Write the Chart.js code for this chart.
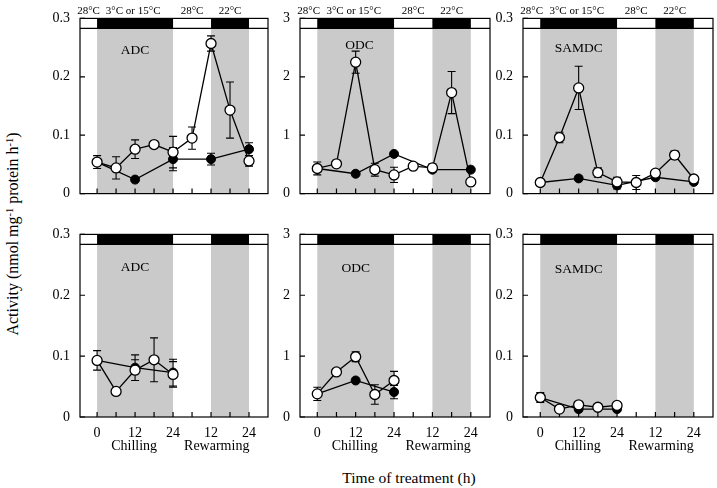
<!DOCTYPE html>
<html>
<head>
<meta charset="utf-8">
<script src="https://cdn.jsdelivr.net/npm/chart.js@4.4.0/dist/chart.umd.min.js"></script>
<style>
  body { margin: 0; width: 717px; height: 488px; background: #fff; position: relative; overflow: hidden;
         font-family: 'Liberation Serif', 'Times New Roman', serif; }
  canvas { position: absolute; }
  .ttl { position: absolute; white-space: nowrap; font-size: 15.5px; color: #000; line-height: 1; }
  .ttl sup { font-size: 0.65em; vertical-align: 0.45em; line-height: 0; }
  #ytitle { left: 13px; top: 234px; font-size: 16px; transform: translate(-50%, -50%) rotate(-90deg); }
  #xtitle { left: 409px; top: 478px; transform: translate(-50%, -50%); }
</style>
</head>
<body>
<div class="ttl" id="ytitle">Activity (nmol mg<sup>-1</sup> protein h<sup>-1</sup>)</div>
<div class="ttl" id="xtitle">Time of treatment (h)</div>
<script>
// x positions: 0..4 = chilling 0,6,12,18,24 h ; 5..8 = rewarming 6,12,18,24 h
const xAll = [0, 1, 2, 3, 4, 5, 6, 7, 8];
const xEven = [0, 2, 4, 6, 8];
const xChill = [0, 1, 2, 3, 4];
const xChillEven = [0, 2, 4];
const xTickLabels = ['0', '', '12', '', '24', '', '12', '', '24'];
const phaseLabels = ['Chilling', 'Rewarming'];
const tempLabels = ['28°C', '3°C or 15°C', '28°C', '22°C'];
const enzymes = ['ADC', 'ODC', 'SAMDC'];

// top row (chilling + rewarming)
const adcTopOpen = [0.054, 0.044, 0.076, 0.084, 0.071, 0.095, 0.257, 0.143, 0.056];
const adcTopOpenErr = [0.011, 0.019, 0.016, 0, 0.027, 0.019, 0.013, 0.048, 0.009];
const adcTopFilled = [0.054, 0.024, 0.059, 0.059, 0.076];
const adcTopFilledErr = [0, 0, 0.02, 0.010, 0.011];

const odcTopOpen = [0.43, 0.51, 2.25, 0.41, 0.32, 0.47, 0.44, 1.73, 0.20];
const odcTopOpenErr = [0.11, 0, 0.19, 0.11, 0.13, 0, 0.07, 0.36, 0];
const odcTopFilled = [0.43, 0.34, 0.68, 0.41, 0.41];
const odcTopFilledErr = [0, 0, 0, 0, 0];

const samdcTopOpen = [0.019, 0.096, 0.181, 0.036, 0.020, 0.019, 0.035, 0.066, 0.025];
const samdcTopOpenErr = [0, 0.009, 0.037, 0.008, 0.008, 0.012, 0, 0.007, 0];
const samdcTopFilled = [0.019, 0.026, 0.014, 0.028, 0.020];
const samdcTopFilledErr = [0, 0, 0.006, 0, 0];

// bottom row (chilling only)
const adcBotOpen = [0.093, 0.042, 0.077, 0.094, 0.070];
const adcBotOpenErr = [0.016, 0.005, 0.017, 0.036, 0.021];
const adcBotFilled = [0.093, 0.081, 0.073];
const adcBotFilledErr = [0, 0.021, 0.022];

const odcBotOpen = [0.38, 0.74, 0.99, 0.37, 0.60];
const odcBotOpenErr = [0.11, 0, 0.08, 0.16, 0.15];
const odcBotFilled = [0.38, 0.60, 0.41];
const odcBotFilledErr = [0, 0, 0.11];

const samdcBotOpen = [0.032, 0.013, 0.020, 0.016, 0.019];
const samdcBotOpenErr = [0.008, 0, 0, 0, 0.005];
const samdcBotFilled = [0.032, 0.013, 0.013];
const samdcBotFilledErr = [0, 0, 0.004];

const FONT = "'Liberation Serif', 'Times New Roman', serif";
const SHADE = '#cacaca';
const shadeSpans = [[0, 4], [6, 8]];
const tempAt = [-0.45, 1.9, 5, 7];
const phaseAt = [1.95, 6.3];

Chart.defaults.color = '#000';
Chart.defaults.font.family = FONT;

const decor = {
  id: 'decor',
  beforeDatasetsDraw(chart, args, o) {
    const { ctx, chartArea: a, scales: { x, y } } = chart;
    ctx.save();
    ctx.fillStyle = SHADE;
    shadeSpans.forEach(([s, e]) => {
      const x0 = x.getPixelForValue(s), x1 = x.getPixelForValue(e);
      ctx.fillRect(x0, a.top, x1 - x0, a.bottom - a.top);
    });
    // temperature band on top
    const bandH = 10;
    ctx.fillStyle = '#000';
    shadeSpans.forEach(([s, e]) => {
      const x0 = x.getPixelForValue(s), x1 = x.getPixelForValue(e);
      ctx.fillRect(x0, a.top, x1 - x0, bandH);
    });
    ctx.strokeStyle = '#000';
    ctx.lineWidth = 1.2;
    ctx.beginPath();
    ctx.moveTo(a.left, a.top + bandH);
    ctx.lineTo(a.right, a.top + bandH);
    ctx.stroke();
    ctx.strokeRect(a.left, a.top, a.right - a.left, a.bottom - a.top);

    // inward tick marks
    ctx.beginPath();
    xAll.forEach(v => {
      const px = x.getPixelForValue(v);
      ctx.moveTo(px, a.bottom);
      ctx.lineTo(px, a.bottom - 5);
    });
    y.ticks.forEach(t => {
      const py = y.getPixelForValue(t.value);
      ctx.moveTo(a.left, py);
      ctx.lineTo(a.left + 5, py);
    });
    ctx.stroke();

    ctx.textAlign = 'center';
    ctx.textBaseline = 'middle';
    if (o.temps) {
      ctx.font = `11px ${FONT}`;
      tempLabels.forEach((t, i) => ctx.fillText(t, x.getPixelForValue(tempAt[i]), a.top - 7));
    }
    ctx.font = `13.5px ${FONT}`;
    ctx.fillText(o.name, x.getPixelForValue(o.nameX), a.top + o.nameDy);
    if (o.phases) {
      ctx.font = `14px ${FONT}`;
      phaseLabels.forEach((t, i) => ctx.fillText(t, x.getPixelForValue(phaseAt[i]), a.bottom + 29));
    }

    // error bars
    ctx.lineWidth = 1.1;
    ctx.beginPath();
    chart.data.datasets.forEach((ds, di) => {
      const meta = chart.getDatasetMeta(di);
      ds.data.forEach((p, j) => {
        const e = ds.errs[j];
        if (!e) return;
        const px = meta.data[j].x;
        const yt = y.getPixelForValue(p.y + e), yb = y.getPixelForValue(p.y - e);
        ctx.moveTo(px, yt); ctx.lineTo(px, yb);
        ctx.moveTo(px - 4, yt); ctx.lineTo(px + 4, yt);
        ctx.moveTo(px - 4, yb); ctx.lineTo(px + 4, yb);
      });
    });
    ctx.stroke();
    ctx.restore();
  }
};

const pts = (xs, ys) => xs.map((v, i) => ({ x: v, y: ys[i] }));

function panel(frame, bottomRow, yMax, name, nameX, nameDy, openX, open, openErr, filledX, filled, filledErr) {
  const W = 50, padR = 12, padT = 13;
  const xH = bottomRow ? 42 : 10;
  const cv = document.createElement('canvas');
  const cw = W + (frame.r - frame.l) + padR;
  const ch = padT + (frame.b - frame.t) + xH;
  cv.width = cw; cv.height = ch;
  cv.style.left = (frame.l - W) + 'px';
  cv.style.top = (frame.t - padT) + 'px';
  cv.style.width = cw + 'px'; cv.style.height = ch + 'px';
  document.body.appendChild(cv);
  const step = yMax / 3;
  new Chart(cv, {
    type: 'line',
    data: {
      datasets: [
        { data: pts(openX, open), errs: openErr, borderColor: '#000', borderWidth: 1.3,
          pointRadius: 5, pointBorderWidth: 1.3, pointBackgroundColor: '#fff', pointBorderColor: '#000',
          tension: 0, clip: false },
        { data: pts(filledX, filled), errs: filledErr, borderColor: '#000', borderWidth: 1.3,
          pointRadius: 4.5, pointBorderWidth: 1, pointBackgroundColor: '#000', pointBorderColor: '#000',
          tension: 0, clip: false }
      ]
    },
    options: {
      responsive: false,
      animation: false,
      devicePixelRatio: 1,
      layout: { padding: { top: padT, right: padR, left: 0, bottom: 0 } },
      plugins: { legend: { display: false }, tooltip: { enabled: false },
                 decor: { name, nameX, nameDy, temps: !bottomRow, phases: bottomRow } },
      scales: {
        x: {
          type: 'linear', min: -0.9, max: 9,
          afterBuildTicks: s => { s.ticks = xAll.map(v => ({ value: v })); },
          afterFit: s => { s.height = xH; },
          grid: { display: false, drawTicks: false },
          border: { display: false },
          ticks: { display: bottomRow, autoSkip: false, maxRotation: 0, padding: 8,
                   font: { size: 14 }, callback: v => xTickLabels[v] ?? '' }
        },
        y: {
          min: 0, max: yMax,
          afterBuildTicks: s => { s.ticks = [0, 1, 2, 3].map(k => ({ value: k * step })); },
          afterFit: s => { s.width = W; },
          grid: { display: false, drawTicks: false },
          border: { display: false },
          ticks: { padding: 10, font: { size: 14 },
                   callback: v => v === 0 ? '0' : (yMax > 1 ? String(Math.round(v)) : v.toFixed(1)) }
        }
      }
    },
    plugins: [decor]
  });
}

const cols = [{ l: 80, r: 268 }, { l: 300, r: 490 }, { l: 523, r: 713 }];
const rowTop = { t: 13, b: 202 }, rowBot = { t: 229, b: 417 };
const f = (c, r) => ({ l: c.l, r: c.r, t: r.t, b: r.b });

panel(f(cols[0], rowTop), false, 0.3, enzymes[0], 2, 32, xAll, adcTopOpen, adcTopOpenErr, xEven, adcTopFilled, adcTopFilledErr);
panel(f(cols[1], rowTop), false, 3, enzymes[1], 2.2, 27, xAll, odcTopOpen, odcTopOpenErr, xEven, odcTopFilled, odcTopFilledErr);
panel(f(cols[2], rowTop), false, 0.3, enzymes[2], 2, 30, xAll, samdcTopOpen, samdcTopOpenErr, xEven, samdcTopFilled, samdcTopFilledErr);
panel(f(cols[0], rowBot), true, 0.3, enzymes[0], 2, 33, xChill, adcBotOpen, adcBotOpenErr, xChillEven, adcBotFilled, adcBotFilledErr);
panel(f(cols[1], rowBot), true, 3, enzymes[1], 2, 34, xChill, odcBotOpen, odcBotOpenErr, xChillEven, odcBotFilled, odcBotFilledErr);
panel(f(cols[2], rowBot), true, 0.3, enzymes[2], 2, 35, xChill, samdcBotOpen, samdcBotOpenErr, xChillEven, samdcBotFilled, samdcBotFilledErr);
</script>
</body>
</html>
